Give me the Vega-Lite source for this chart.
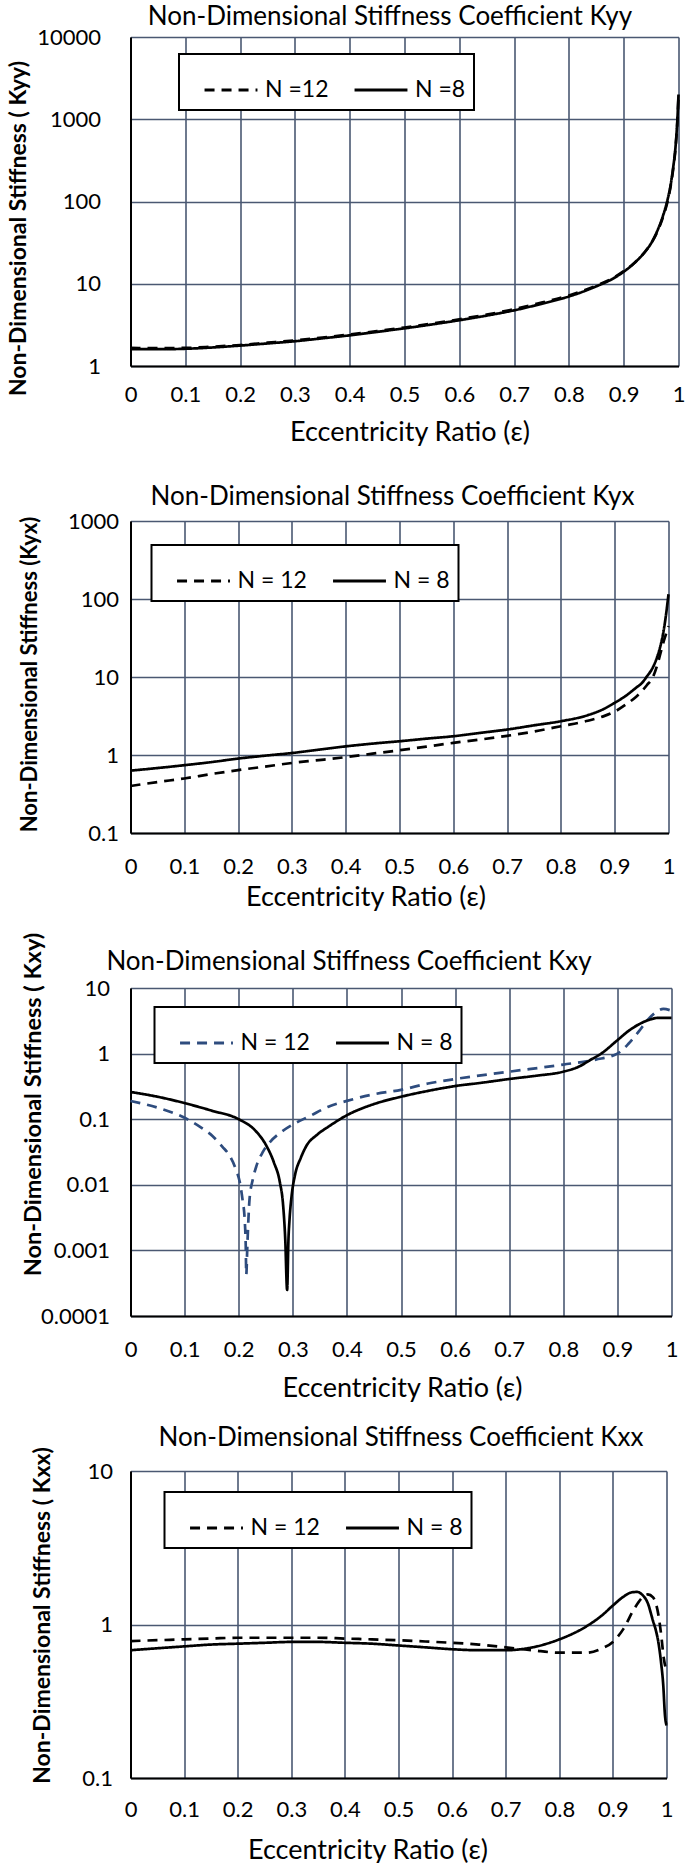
{
  "$schema": "https://vega.github.io/schema/vega-lite/v6.json",
  "padding": {"left": 6.5, "top": 3, "right": 0, "bottom": 0},
  "background": "white",
  "datasets": {
    "kyy": [
      {"e":0,"k":1.6,"s":"N =8"},{"e":0.05,"k":1.6,"s":"N =8"},{"e":0.1,"k":1.62,"s":"N =8"},{"e":0.15,"k":1.68,"s":"N =8"},{"e":0.2,"k":1.77,"s":"N =8"},{"e":0.25,"k":1.88,"s":"N =8"},{"e":0.3,"k":2.0,"s":"N =8"},{"e":0.35,"k":2.17,"s":"N =8"},{"e":0.4,"k":2.36,"s":"N =8"},{"e":0.45,"k":2.6,"s":"N =8"},{"e":0.5,"k":2.87,"s":"N =8"},{"e":0.55,"k":3.2,"s":"N =8"},{"e":0.6,"k":3.6,"s":"N =8"},{"e":0.65,"k":4.1,"s":"N =8"},{"e":0.7,"k":4.75,"s":"N =8"},{"e":0.75,"k":5.7,"s":"N =8"},{"e":0.8,"k":7.0,"s":"N =8"},{"e":0.85,"k":9.3,"s":"N =8"},{"e":0.88,"k":11.5,"s":"N =8"},{"e":0.9,"k":14,"s":"N =8"},{"e":0.92,"k":18,"s":"N =8"},{"e":0.94,"k":25,"s":"N =8"},{"e":0.95,"k":31,"s":"N =8"},{"e":0.96,"k":42,"s":"N =8"},{"e":0.97,"k":62,"s":"N =8"},{"e":0.98,"k":105,"s":"N =8"},{"e":0.985,"k":150,"s":"N =8"},{"e":0.99,"k":250,"s":"N =8"},{"e":0.995,"k":500,"s":"N =8"},{"e":0.998,"k":1000,"s":"N =8"},{"e":1.0,"k":2000,"s":"N =8"},
      {"e":0,"k":1.66,"s":"N =12"},{"e":0.05,"k":1.65,"s":"N =12"},{"e":0.1,"k":1.66,"s":"N =12"},{"e":0.15,"k":1.72,"s":"N =12"},{"e":0.2,"k":1.8,"s":"N =12"},{"e":0.25,"k":1.92,"s":"N =12"},{"e":0.3,"k":2.05,"s":"N =12"},{"e":0.35,"k":2.22,"s":"N =12"},{"e":0.4,"k":2.42,"s":"N =12"},{"e":0.45,"k":2.66,"s":"N =12"},{"e":0.5,"k":2.94,"s":"N =12"},{"e":0.55,"k":3.28,"s":"N =12"},{"e":0.6,"k":3.7,"s":"N =12"},{"e":0.65,"k":4.22,"s":"N =12"},{"e":0.7,"k":4.9,"s":"N =12"},{"e":0.75,"k":5.9,"s":"N =12"},{"e":0.8,"k":7.2,"s":"N =12"},{"e":0.85,"k":9.5,"s":"N =12"},{"e":0.88,"k":11.7,"s":"N =12"},{"e":0.9,"k":14.2,"s":"N =12"},{"e":0.92,"k":18,"s":"N =12"},{"e":0.94,"k":25,"s":"N =12"},{"e":0.95,"k":31,"s":"N =12"},{"e":0.96,"k":41,"s":"N =12"},{"e":0.97,"k":60,"s":"N =12"},{"e":0.98,"k":100,"s":"N =12"},{"e":0.985,"k":145,"s":"N =12"},{"e":0.99,"k":240,"s":"N =12"},{"e":0.995,"k":480,"s":"N =12"},{"e":0.998,"k":950,"s":"N =12"},{"e":1.0,"k":1900,"s":"N =12"}
    ],
    "kyx": [
      {"e":0,"k":0.63,"s":"N = 8"},{"e":0.05,"k":0.68,"s":"N = 8"},{"e":0.1,"k":0.74,"s":"N = 8"},{"e":0.15,"k":0.81,"s":"N = 8"},{"e":0.2,"k":0.9,"s":"N = 8"},{"e":0.25,"k":0.98,"s":"N = 8"},{"e":0.3,"k":1.06,"s":"N = 8"},{"e":0.35,"k":1.17,"s":"N = 8"},{"e":0.4,"k":1.29,"s":"N = 8"},{"e":0.45,"k":1.4,"s":"N = 8"},{"e":0.5,"k":1.5,"s":"N = 8"},{"e":0.55,"k":1.62,"s":"N = 8"},{"e":0.6,"k":1.74,"s":"N = 8"},{"e":0.65,"k":1.92,"s":"N = 8"},{"e":0.7,"k":2.12,"s":"N = 8"},{"e":0.75,"k":2.4,"s":"N = 8"},{"e":0.8,"k":2.71,"s":"N = 8"},{"e":0.85,"k":3.24,"s":"N = 8"},{"e":0.88,"k":3.9,"s":"N = 8"},{"e":0.9,"k":4.67,"s":"N = 8"},{"e":0.92,"k":5.7,"s":"N = 8"},{"e":0.94,"k":7.3,"s":"N = 8"},{"e":0.95,"k":8.3,"s":"N = 8"},{"e":0.96,"k":10.2,"s":"N = 8"},{"e":0.97,"k":12.9,"s":"N = 8"},{"e":0.98,"k":19,"s":"N = 8"},{"e":0.985,"k":25,"s":"N = 8"},{"e":0.99,"k":36,"s":"N = 8"},{"e":0.995,"k":60,"s":"N = 8"},{"e":1.0,"k":115,"s":"N = 8"},
      {"e":0,"k":0.4,"s":"N = 12"},{"e":0.05,"k":0.45,"s":"N = 12"},{"e":0.1,"k":0.5,"s":"N = 12"},{"e":0.15,"k":0.57,"s":"N = 12"},{"e":0.2,"k":0.64,"s":"N = 12"},{"e":0.25,"k":0.71,"s":"N = 12"},{"e":0.3,"k":0.79,"s":"N = 12"},{"e":0.35,"k":0.86,"s":"N = 12"},{"e":0.4,"k":0.94,"s":"N = 12"},{"e":0.45,"k":1.04,"s":"N = 12"},{"e":0.5,"k":1.15,"s":"N = 12"},{"e":0.55,"k":1.28,"s":"N = 12"},{"e":0.6,"k":1.43,"s":"N = 12"},{"e":0.65,"k":1.58,"s":"N = 12"},{"e":0.7,"k":1.76,"s":"N = 12"},{"e":0.75,"k":2.0,"s":"N = 12"},{"e":0.8,"k":2.34,"s":"N = 12"},{"e":0.85,"k":2.75,"s":"N = 12"},{"e":0.88,"k":3.15,"s":"N = 12"},{"e":0.9,"k":3.6,"s":"N = 12"},{"e":0.92,"k":4.4,"s":"N = 12"},{"e":0.94,"k":5.6,"s":"N = 12"},{"e":0.95,"k":6.5,"s":"N = 12"},{"e":0.96,"k":7.9,"s":"N = 12"},{"e":0.97,"k":9.6,"s":"N = 12"},{"e":0.98,"k":15,"s":"N = 12"},{"e":0.985,"k":20,"s":"N = 12"},{"e":0.99,"k":27,"s":"N = 12"},{"e":0.995,"k":35,"s":"N = 12"},{"e":1.0,"k":45,"s":"N = 12"}
    ],
    "kxy": [
      {"e":0,"k":0.26,"s":"N = 8"},{"e":0.05,"k":0.22,"s":"N = 8"},{"e":0.1,"k":0.176,"s":"N = 8"},{"e":0.15,"k":0.135,"s":"N = 8"},{"e":0.2,"k":0.1,"s":"N = 8"},{"e":0.23,"k":0.068,"s":"N = 8"},{"e":0.25,"k":0.041,"s":"N = 8"},{"e":0.265,"k":0.022,"s":"N = 8"},{"e":0.276,"k":0.011,"s":"N = 8"},{"e":0.282,"k":0.005,"s":"N = 8"},{"e":0.286,"k":0.0015,"s":"N = 8"},{"e":0.2895,"k":0.00025,"s":"N = 8"},{"e":0.292,"k":0.0015,"s":"N = 8"},{"e":0.294,"k":0.003,"s":"N = 8"},{"e":0.298,"k":0.007,"s":"N = 8"},{"e":0.304,"k":0.014,"s":"N = 8"},{"e":0.315,"k":0.026,"s":"N = 8"},{"e":0.325,"k":0.039,"s":"N = 8"},{"e":0.345,"k":0.058,"s":"N = 8"},{"e":0.368,"k":0.079,"s":"N = 8"},{"e":0.4,"k":0.115,"s":"N = 8"},{"e":0.45,"k":0.17,"s":"N = 8"},{"e":0.5,"k":0.22,"s":"N = 8"},{"e":0.55,"k":0.27,"s":"N = 8"},{"e":0.6,"k":0.32,"s":"N = 8"},{"e":0.65,"k":0.36,"s":"N = 8"},{"e":0.7,"k":0.41,"s":"N = 8"},{"e":0.75,"k":0.46,"s":"N = 8"},{"e":0.8,"k":0.53,"s":"N = 8"},{"e":0.83,"k":0.64,"s":"N = 8"},{"e":0.85,"k":0.8,"s":"N = 8"},{"e":0.87,"k":1.0,"s":"N = 8"},{"e":0.9,"k":1.6,"s":"N = 8"},{"e":0.92,"k":2.2,"s":"N = 8"},{"e":0.94,"k":2.8,"s":"N = 8"},{"e":0.96,"k":3.3,"s":"N = 8"},{"e":0.975,"k":3.5,"s":"N = 8"},{"e":1.0,"k":3.5,"s":"N = 8"},
      {"e":0,"k":0.19,"s":"N = 12"},{"e":0.05,"k":0.15,"s":"N = 12"},{"e":0.1,"k":0.105,"s":"N = 12"},{"e":0.13,"k":0.075,"s":"N = 12"},{"e":0.152,"k":0.055,"s":"N = 12"},{"e":0.17,"k":0.038,"s":"N = 12"},{"e":0.183,"k":0.028,"s":"N = 12"},{"e":0.195,"k":0.017,"s":"N = 12"},{"e":0.202,"k":0.011,"s":"N = 12"},{"e":0.207,"k":0.006,"s":"N = 12"},{"e":0.211,"k":0.003,"s":"N = 12"},{"e":0.213,"k":0.0012,"s":"N = 12"},{"e":0.214,"k":0.00043,"s":"N = 12"},{"e":0.216,"k":0.0012,"s":"N = 12"},{"e":0.22,"k":0.006,"s":"N = 12"},{"e":0.226,"k":0.012,"s":"N = 12"},{"e":0.233,"k":0.0196,"s":"N = 12"},{"e":0.245,"k":0.032,"s":"N = 12"},{"e":0.257,"k":0.044,"s":"N = 12"},{"e":0.28,"k":0.065,"s":"N = 12"},{"e":0.3,"k":0.083,"s":"N = 12"},{"e":0.33,"k":0.11,"s":"N = 12"},{"e":0.368,"k":0.158,"s":"N = 12"},{"e":0.4,"k":0.19,"s":"N = 12"},{"e":0.45,"k":0.24,"s":"N = 12"},{"e":0.5,"k":0.28,"s":"N = 12"},{"e":0.55,"k":0.35,"s":"N = 12"},{"e":0.6,"k":0.41,"s":"N = 12"},{"e":0.7,"k":0.53,"s":"N = 12"},{"e":0.8,"k":0.68,"s":"N = 12"},{"e":0.86,"k":0.81,"s":"N = 12"},{"e":0.9,"k":1.0,"s":"N = 12"},{"e":0.92,"k":1.4,"s":"N = 12"},{"e":0.94,"k":2.2,"s":"N = 12"},{"e":0.955,"k":3.2,"s":"N = 12"},{"e":0.97,"k":4.2,"s":"N = 12"},{"e":0.985,"k":4.8,"s":"N = 12"},{"e":1.0,"k":4.5,"s":"N = 12"}
    ],
    "kxx": [
      {"e":0,"k":0.68,"s":"N = 8"},{"e":0.05,"k":0.7,"s":"N = 8"},{"e":0.1,"k":0.72,"s":"N = 8"},{"e":0.15,"k":0.74,"s":"N = 8"},{"e":0.2,"k":0.75,"s":"N = 8"},{"e":0.25,"k":0.76,"s":"N = 8"},{"e":0.3,"k":0.77,"s":"N = 8"},{"e":0.35,"k":0.77,"s":"N = 8"},{"e":0.4,"k":0.76,"s":"N = 8"},{"e":0.45,"k":0.75,"s":"N = 8"},{"e":0.5,"k":0.73,"s":"N = 8"},{"e":0.55,"k":0.71,"s":"N = 8"},{"e":0.6,"k":0.69,"s":"N = 8"},{"e":0.65,"k":0.68,"s":"N = 8"},{"e":0.7,"k":0.68,"s":"N = 8"},{"e":0.75,"k":0.71,"s":"N = 8"},{"e":0.8,"k":0.8,"s":"N = 8"},{"e":0.85,"k":0.97,"s":"N = 8"},{"e":0.88,"k":1.15,"s":"N = 8"},{"e":0.9,"k":1.33,"s":"N = 8"},{"e":0.92,"k":1.52,"s":"N = 8"},{"e":0.935,"k":1.62,"s":"N = 8"},{"e":0.945,"k":1.63,"s":"N = 8"},{"e":0.955,"k":1.56,"s":"N = 8"},{"e":0.965,"k":1.38,"s":"N = 8"},{"e":0.975,"k":1.05,"s":"N = 8"},{"e":0.98,"k":0.92,"s":"N = 8"},{"e":0.985,"k":0.76,"s":"N = 8"},{"e":0.99,"k":0.56,"s":"N = 8"},{"e":0.994,"k":0.4,"s":"N = 8"},{"e":0.997,"k":0.26,"s":"N = 8"},{"e":1.0,"k":0.22,"s":"N = 8"},
      {"e":0,"k":0.78,"s":"N = 12"},{"e":0.05,"k":0.79,"s":"N = 12"},{"e":0.1,"k":0.8,"s":"N = 12"},{"e":0.15,"k":0.81,"s":"N = 12"},{"e":0.2,"k":0.82,"s":"N = 12"},{"e":0.25,"k":0.82,"s":"N = 12"},{"e":0.3,"k":0.82,"s":"N = 12"},{"e":0.35,"k":0.82,"s":"N = 12"},{"e":0.4,"k":0.81,"s":"N = 12"},{"e":0.45,"k":0.8,"s":"N = 12"},{"e":0.5,"k":0.79,"s":"N = 12"},{"e":0.55,"k":0.775,"s":"N = 12"},{"e":0.6,"k":0.76,"s":"N = 12"},{"e":0.65,"k":0.74,"s":"N = 12"},{"e":0.7,"k":0.71,"s":"N = 12"},{"e":0.75,"k":0.68,"s":"N = 12"},{"e":0.8,"k":0.655,"s":"N = 12"},{"e":0.85,"k":0.655,"s":"N = 12"},{"e":0.88,"k":0.7,"s":"N = 12"},{"e":0.9,"k":0.77,"s":"N = 12"},{"e":0.92,"k":0.94,"s":"N = 12"},{"e":0.94,"k":1.27,"s":"N = 12"},{"e":0.955,"k":1.5,"s":"N = 12"},{"e":0.965,"k":1.57,"s":"N = 12"},{"e":0.975,"k":1.5,"s":"N = 12"},{"e":0.985,"k":1.15,"s":"N = 12"},{"e":0.99,"k":0.86,"s":"N = 12"},{"e":0.995,"k":0.6,"s":"N = 12"},{"e":1.0,"k":0.5,"s":"N = 12"}
    ]
  },
  "concat": [
    {
      "width": 548, "height": 329,
      "data": {"name": "kyy"},
      "encoding": {
        "x": {"field": "e", "type": "quantitative", "scale": {"domain": [0, 1], "nice": false, "zero": false},
          "axis": {"values": [0,0.1,0.2,0.3,0.4,0.5,0.6,0.7,0.8,0.9,1], "format": "~g", "title": "Eccentricity Ratio (ε)", "titleX": 279, "titleY": 66, "labelPadding": 28}},
        "y": {"field": "k", "type": "quantitative", "scale": {"type": "log", "domain": [1, 10000], "nice": false},
          "axis": {"values": [1,10,100,1000,10000], "format": "~g", "title": "Non-Dimensional Stiffness ( Kyy)", "titleX": -112, "titleY": 191, "titleFontSize": 23, "labelPadding": 30}},
        "color": {"field": "s", "type": "nominal", "scale": {"domain": ["N =12", "N =8"], "range": ["#000000", "#000000"]},
          "legend": {"orient": "none", "legendX": 48.5, "legendY": 17}},
        "strokeDash": {"field": "s", "type": "nominal", "scale": {"domain": ["N =12", "N =8"], "range": [[10, 7], [1, 0]]},
          "legend": {"orient": "none", "legendX": 48.5, "legendY": 17}}
      },
      "layer": [
        {"transform": [{"filter": "datum.s == 'N =12'"}], "mark": {"type": "line", "interpolate": "monotone", "strokeWidth": 2.7}},
        {"transform": [{"filter": "datum.s == 'N =8'"}], "mark": {"type": "line", "interpolate": "monotone", "strokeWidth": 2.7},
          "encoding": {"x": {"field": "e", "type": "quantitative", "scale": {"domain": [0, 1], "nice": false, "zero": false},
            "axis": {"orient": "top", "title": "Non-Dimensional Stiffness Coefficient Kyy", "titleX": 259, "titleY": -21, "labels": false, "ticks": false, "domain": false, "grid": false, "titleFontSize": 26, "titleFontWeight": "normal", "titleBaseline": "middle", "titleAlign": "center"}}}}
      ],
      "resolve": {"axis": {"x": "independent"}}
    },
    {
      "width": 538, "height": 312,
      "data": {"name": "kyx"},
      "encoding": {
        "x": {"field": "e", "type": "quantitative", "scale": {"domain": [0, 1], "nice": false, "zero": false},
          "axis": {"values": [0,0.1,0.2,0.3,0.4,0.5,0.6,0.7,0.8,0.9,1], "format": "~g", "title": "Eccentricity Ratio (ε)", "titleX": 235, "titleY": 64, "labelPadding": 33}},
        "y": {"field": "k", "type": "quantitative", "scale": {"type": "log", "domain": [0.1, 1000], "nice": false},
          "axis": {"values": [0.1,1,10,100,1000], "format": "~g", "title": "Non-Dimensional Stiffness (Kyx)", "titleX": -101.5, "titleY": 153, "titleFontSize": 22, "labelPadding": 12}},
        "color": {"field": "s", "type": "nominal", "scale": {"domain": ["N = 12", "N = 8"], "range": ["#000000", "#000000"]},
          "legend": {"orient": "none", "legendX": 21, "legendY": 24}},
        "strokeDash": {"field": "s", "type": "nominal", "scale": {"domain": ["N = 12", "N = 8"], "range": [[10, 7], [1, 0]]},
          "legend": {"orient": "none", "legendX": 21, "legendY": 24}}
      },
      "layer": [
        {"transform": [{"filter": "datum.s == 'N = 12'"}], "mark": {"type": "line", "interpolate": "monotone", "strokeWidth": 2.7}},
        {"transform": [{"filter": "datum.s == 'N = 8'"}], "mark": {"type": "line", "interpolate": "monotone", "strokeWidth": 2.7},
          "encoding": {"x": {"field": "e", "type": "quantitative", "scale": {"domain": [0, 1], "nice": false, "zero": false},
            "axis": {"orient": "top", "title": "Non-Dimensional Stiffness Coefficient Kyx", "titleX": 261.5, "titleY": -25, "labels": false, "ticks": false, "domain": false, "grid": false, "titleFontSize": 26, "titleFontWeight": "normal", "titleBaseline": "middle", "titleAlign": "center"}}}}
      ],
      "resolve": {"axis": {"x": "independent"}}
    },
    {
      "width": 541, "height": 328,
      "data": {"name": "kxy"},
      "encoding": {
        "x": {"field": "e", "type": "quantitative", "scale": {"domain": [0, 1], "nice": false, "zero": false},
          "axis": {"values": [0,0.1,0.2,0.3,0.4,0.5,0.6,0.7,0.8,0.9,1], "format": "~g", "title": "Eccentricity Ratio (ε)", "titleX": 271.5, "titleY": 72, "labelPadding": 33}},
        "y": {"field": "k", "type": "quantitative", "scale": {"type": "log", "domain": [0.0001, 10], "nice": false},
          "axis": {"values": [0.0001,0.001,0.01,0.1,1,10], "format": "~g", "title": "Non-Dimensional Stiffness ( Kxy)", "titleX": -97, "titleY": 116, "titleFontSize": 23.5, "labelPadding": 21}},
        "color": {"field": "s", "type": "nominal", "scale": {"domain": ["N = 12", "N = 8"], "range": ["#2e4c7e", "#000000"]},
          "legend": {"orient": "none", "legendX": 24, "legendY": 19}},
        "strokeDash": {"field": "s", "type": "nominal", "scale": {"domain": ["N = 12", "N = 8"], "range": [[10, 7], [1, 0]]},
          "legend": {"orient": "none", "legendX": 24, "legendY": 19}}
      },
      "layer": [
        {"transform": [{"filter": "datum.s == 'N = 12'"}], "mark": {"type": "line", "interpolate": "monotone", "strokeWidth": 2.7}},
        {"transform": [{"filter": "datum.s == 'N = 8'"}], "mark": {"type": "line", "interpolate": "monotone", "strokeWidth": 2.7},
          "encoding": {"x": {"field": "e", "type": "quantitative", "scale": {"domain": [0, 1], "nice": false, "zero": false},
            "axis": {"orient": "top", "title": "Non-Dimensional Stiffness Coefficient Kxy", "titleX": 218, "titleY": -27, "labels": false, "ticks": false, "domain": false, "grid": false, "titleFontSize": 26, "titleFontWeight": "normal", "titleBaseline": "middle", "titleAlign": "center"}}}}
      ],
      "resolve": {"axis": {"x": "independent"}}
    },
    {
      "width": 536, "height": 307,
      "data": {"name": "kxx"},
      "encoding": {
        "x": {"field": "e", "type": "quantitative", "scale": {"domain": [0, 1], "nice": false, "zero": false},
          "axis": {"values": [0,0.1,0.2,0.3,0.4,0.5,0.6,0.7,0.8,0.9,1], "format": "~g", "title": "Eccentricity Ratio (ε)", "titleX": 237, "titleY": 72, "labelPadding": 31}},
        "y": {"field": "k", "type": "quantitative", "scale": {"type": "log", "domain": [0.1, 10], "nice": false},
          "axis": {"values": [0.1,1,10], "format": "~g", "title": "Non-Dimensional Stiffness ( Kxx)", "titleX": -88, "titleY": 144, "titleFontSize": 23, "labelPadding": 18}},
        "color": {"field": "s", "type": "nominal", "scale": {"domain": ["N = 12", "N = 8"], "range": ["#000000", "#000000"]},
          "legend": {"orient": "none", "legendX": 34, "legendY": 21}},
        "strokeDash": {"field": "s", "type": "nominal", "scale": {"domain": ["N = 12", "N = 8"], "range": [[10, 7], [1, 0]]},
          "legend": {"orient": "none", "legendX": 34, "legendY": 21}}
      },
      "layer": [
        {"transform": [{"filter": "datum.s == 'N = 12'"}], "mark": {"type": "line", "interpolate": "monotone", "strokeWidth": 2.7}},
        {"transform": [{"filter": "datum.s == 'N = 8'"}], "mark": {"type": "line", "interpolate": "monotone", "strokeWidth": 2.7},
          "encoding": {"x": {"field": "e", "type": "quantitative", "scale": {"domain": [0, 1], "nice": false, "zero": false},
            "axis": {"orient": "top", "title": "Non-Dimensional Stiffness Coefficient Kxx", "titleX": 270, "titleY": -34, "labels": false, "ticks": false, "domain": false, "grid": false, "titleFontSize": 26, "titleFontWeight": "normal", "titleBaseline": "middle", "titleAlign": "center"}}}}
      ],
      "resolve": {"axis": {"x": "independent"}}
    }
  ],
  "columns": 1,
  "spacing": 155,
  "bounds": "flush",
  "resolve": {
    "scale": {"x": "independent", "y": "independent", "color": "independent", "strokeDash": "independent"},
    "axis": {"x": "independent", "y": "independent"},
    "legend": {"color": "independent", "strokeDash": "independent"}
  },
  "config": {
    "font": "Lato",
    "view": {"stroke": null},
    "axis": {
      "labelFont": "Lato", "labelFontSize": 22, "labelColor": "#000000",
      "titleFont": "Lato", "titleColor": "#000000",
      "ticks": false, "tickSize": 0,
      "grid": true, "gridColor": "#4a5872", "gridWidth": 1.6, "gridOpacity": 1,
      "domainColor": "#000000", "domainWidth": 2,
      "labelOverlap": false, "labelFlush": false, "labelBound": false
    },
    "axisX": {"labelBaseline": "middle", "titleFontSize": 27, "titleFontWeight": "normal", "titleBaseline": "middle", "titleAlign": "center"},
    "axisY": {"titleFontWeight": "bold", "titleBaseline": "middle", "titleAlign": "center", "titleAngle": -90},
    "legend": {
      "title": null, "direction": "horizontal", "padding": 8,
      "strokeColor": "#000000", "strokeWidth": 2, "fillColor": "#ffffff",
      "symbolType": "stroke", "symbolSize": 2800, "symbolStrokeWidth": 3, "symbolOffset": 16,
      "labelFont": "Lato", "labelFontSize": 23, "labelColor": "#000000", "labelOffset": 6, "columnPadding": 8
    }
  }
}
